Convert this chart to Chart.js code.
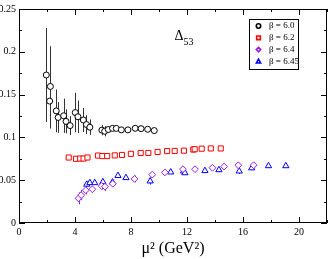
<!DOCTYPE html>
<html>
<head>
<meta charset="utf-8">
<script src="https://cdn.jsdelivr.net/npm/chart.js@4/dist/chart.umd.min.js"></script>
<style>
  html, body { margin: 0; padding: 0; background: #fff; }
  #wrap { width: 332px; height: 259px; }
</style>
</head>
<body>
<div id="wrap"><canvas id="chart" width="332" height="259"></canvas></div>
<script>
// beta = 6.0 (circles)
const mu2_60 = [1.95, 2.24, 2.19, 2.66, 2.80, 3.19, 3.36, 3.65, 4.02, 4.21, 4.60, 4.82, 5.06, 5.92, 6.12, 6.38, 6.68, 6.95, 7.31, 7.78, 8.30, 8.72, 9.19, 9.66];
const d_60   = [0.1729, 0.1595, 0.1424, 0.1310, 0.1233, 0.1253, 0.1187, 0.1138, 0.1290, 0.1241, 0.1203, 0.1150, 0.1119, 0.1085, 0.1072, 0.1092, 0.1105, 0.1105, 0.1088, 0.1088, 0.1106, 0.1102, 0.1095, 0.1080];
const e_60   = [0.055, 0.047, 0.032, 0.025, 0.018, 0.020, 0.014, 0.011, 0.023, 0.019, 0.014, 0.011, 0.009, 0.006, 0.006, 0.004, 0.003, 0.003, 0.002, 0.002, 0.002, 0.002, 0.002, 0.002];

// beta = 6.2 (squares)
const mu2_62 = [3.55, 4.07, 4.37, 4.61, 4.89, 5.64, 5.95, 6.30, 6.84, 7.36, 7.99, 8.69, 9.24, 9.90, 10.58, 11.12, 11.78, 12.45, 12.55, 13.05, 13.70, 14.41];
const d_62   = [0.0765, 0.0750, 0.0753, 0.0753, 0.0765, 0.0788, 0.0782, 0.0782, 0.0790, 0.0795, 0.0808, 0.0818, 0.0818, 0.0830, 0.0840, 0.0842, 0.0845, 0.0858, 0.0862, 0.0868, 0.0871, 0.0871];
const e_62   = [0.001, 0.001, 0.001, 0.001, 0.001, 0.001, 0.001, 0.001, 0.001, 0.001, 0.001, 0.001, 0.001, 0.001, 0.001, 0.001, 0.001, 0.001, 0.001, 0.001, 0.001, 0.001];

// beta = 6.4 (diamonds)
const mu2_64 = [4.25, 4.44, 4.77, 5.24, 5.90, 6.14, 6.70, 8.25, 9.52, 10.42, 11.71, 12.57, 13.82, 14.65, 15.66, 16.76];
const d_64   = [0.0288, 0.0326, 0.0383, 0.0394, 0.0432, 0.0424, 0.0458, 0.0515, 0.0565, 0.0591, 0.0629, 0.0629, 0.0645, 0.0659, 0.0675, 0.0675];
const e_64   = [0.007, 0.006, 0.005, 0.004, 0.004, 0.005, 0.003, 0.004, 0.003, 0.003, 0.003, 0.002, 0.002, 0.002, 0.002, 0.002];

// beta = 6.45 (triangles)
const mu2_645 = [4.84, 5.06, 5.41, 5.99, 6.68, 7.07, 7.64, 9.37, 10.84, 11.75, 11.85, 13.28, 14.28, 15.73, 16.62, 17.82, 19.06];
const d_645   = [0.0451, 0.0469, 0.0469, 0.0480, 0.0477, 0.0553, 0.0528, 0.0489, 0.0594, 0.0605, 0.0585, 0.0610, 0.0620, 0.0605, 0.0642, 0.0667, 0.0667];
const e_645   = [0.002, 0.002, 0.002, 0.002, 0.002, 0.002, 0.002, 0.004, 0.002, 0.002, 0.002, 0.002, 0.002, 0.003, 0.002, 0.002, 0.002];

const seriesLabels = ['β = 6.0', 'β = 6.2', 'β = 6.4', 'β = 6.45'];
const xTicks = [0, 4, 8, 12, 16, 20];
const xMinor = [2, 6, 10, 14, 18, 22];
const yTicks = [0, 0.05, 0.1, 0.15, 0.2, 0.25];
const yMinor = [0.025, 0.075, 0.125, 0.175, 0.225];

const SERIF = '"Liberation Serif", "DejaVu Serif", serif';

function pts(xs, ys) {
    return xs.map((x, i) => ({ x: x, y: ys[i] }));
}

function makeSet(label, xs, ys, errs, color, style, r) {
    return {
        label: label,
        data: pts(xs, ys),
        errs: errs,
        borderColor: color,
        backgroundColor: '#fff',
        pointStyle: style,
        pointRadius: r,
        pointBorderWidth: 1,
        showLine: false
    };
}

// draw a marker by hand (used for the legend box)
function drawMarker(ctx, style, x, y, r, color) {
    ctx.save();
    ctx.strokeStyle = color;
    ctx.fillStyle = '#fff';
    ctx.lineWidth = 1.6;
    ctx.beginPath();
    if (style === 'circle') {
        ctx.arc(x, y, r, 0, Math.PI * 2);
    } else if (style === 'rect') {
        const s = r * 0.85;
        ctx.rect(x - s, y - s, 2 * s, 2 * s);
    } else if (style === 'rectRot') {
        ctx.moveTo(x, y - r); ctx.lineTo(x + r, y); ctx.lineTo(x, y + r); ctx.lineTo(x - r, y);
        ctx.closePath();
    } else {
        ctx.moveTo(x, y - r);
        ctx.lineTo(x + r * 0.95, y + r * 0.7);
        ctx.lineTo(x - r * 0.95, y + r * 0.7);
        ctx.closePath();
    }
    ctx.fill();
    ctx.stroke();
    ctx.restore();
}

// vertical error bars, drawn under the markers
const errorBars = {
    id: 'errorBars',
    beforeDatasetsDraw(chart) {
        const ctx = chart.ctx;
        const xs = chart.scales.x, ys = chart.scales.y;
        ctx.save();
        ctx.lineWidth = 1;
        chart.data.datasets.forEach(ds => {
            ctx.strokeStyle = ds.borderColor === '#000000' ? '#333' : ds.borderColor;
            ds.data.forEach((p, i) => {
                const e = ds.errs[i];
                const px = Math.round(xs.getPixelForValue(p.x)) + 0.5;
                ctx.beginPath();
                ctx.moveTo(px, ys.getPixelForValue(p.y - e));
                ctx.lineTo(px, ys.getPixelForValue(p.y + e));
                ctx.stroke();
            });
        });
        ctx.restore();
    }
};

// frame, inward ticks, label and legend box
const decorations = {
    id: 'decorations',
    afterDraw(chart) {
        const ctx = chart.ctx;
        const a = chart.chartArea;
        const xs = chart.scales.x, ys = chart.scales.y;
        ctx.save();
        ctx.strokeStyle = '#000';
        ctx.lineWidth = 1;
        ctx.strokeRect(a.left + 0.5, a.top + 0.5, a.right - a.left - 1, a.bottom - a.top - 1);

        ctx.beginPath();
        const tickX = (v, len) => {
            const px = Math.round(xs.getPixelForValue(v)) + 0.5;
            ctx.moveTo(px, a.bottom); ctx.lineTo(px, a.bottom - len);
            ctx.moveTo(px, a.top); ctx.lineTo(px, a.top + len);
        };
        const tickY = (v, len) => {
            const py = Math.round(ys.getPixelForValue(v)) + 0.5;
            ctx.moveTo(a.left, py); ctx.lineTo(a.left + len, py);
            ctx.moveTo(a.right, py); ctx.lineTo(a.right - len, py);
        };
        xTicks.forEach(v => tickX(v, 6));
        xMinor.forEach(v => tickX(v, 3));
        yTicks.forEach(v => tickY(v, 6));
        yMinor.forEach(v => tickY(v, 3));
        ctx.stroke();

        // Delta_53 label
        const lx = xs.getPixelForValue(11.1);
        const ly = ys.getPixelForValue(0.2135);
        ctx.fillStyle = '#000';
        ctx.textBaseline = 'alphabetic';
        ctx.textAlign = 'left';
        ctx.font = '14px ' + SERIF;
        ctx.fillText('Δ', lx, ly);
        ctx.font = '10px ' + SERIF;
        ctx.fillText('53', lx + 9, ly + 5);

        // legend
        const bx = a.right - 78, by = 19, bw = 49, bh = 50;
        ctx.strokeRect(bx + 0.5, by + 0.5, bw, bh);
        ctx.font = '9px ' + SERIF;
        ctx.textBaseline = 'middle';
        chart.data.datasets.forEach((ds, i) => {
            const cy = by + 7 + i * 11.8;
            drawMarker(ctx, ds.pointStyle, bx + 9.5, cy, 2.2, ds.borderColor);
            ctx.fillStyle = '#000';
            ctx.fillText(ds.label, bx + 20, cy);
        });
        ctx.restore();
    }
};

const chart = new Chart(document.getElementById('chart'), {
    type: 'scatter',
    data: {
        datasets: [
            makeSet(seriesLabels[0], mu2_60, d_60, e_60, '#000000', 'circle', 3),
            makeSet(seriesLabels[1], mu2_62, d_62, e_62, '#ff0000', 'rect', 3.6),
            makeSet(seriesLabels[2], mu2_64, d_64, e_64, '#9a1ee0', 'rectRot', 3.4),
            makeSet(seriesLabels[3], mu2_645, d_645, e_645, '#0000ff', 'triangle', 3.6)
        ]
    },
    options: {
        responsive: false,
        animation: false,
        devicePixelRatio: 1,
        layout: { padding: { top: 4, right: 1, left: 0, bottom: 0 } },
        plugins: { legend: { display: false }, tooltip: { enabled: false } },
        scales: {
            x: {
                type: 'linear',
                min: 0,
                max: 22,
                grid: { display: false, drawTicks: false },
                border: { display: false },
                afterBuildTicks: s => { s.ticks = xTicks.map(v => ({ value: v })); },
                afterFit: s => { s.height = 36; },
                ticks: { color: '#000', padding: 3, font: { family: SERIF, size: 10 } },
                title: {
                    display: true,
                    text: 'μ² (GeV²)',
                    color: '#000',
                    padding: { top: 0, bottom: 1 },
                    font: { family: SERIF, size: 16 }
                }
            },
            y: {
                min: 0,
                max: 0.25,
                grid: { display: false, drawTicks: false },
                border: { display: false },
                afterBuildTicks: s => { s.ticks = yTicks.map(v => ({ value: v })); },
                afterFit: s => { s.width = 19; },
                ticks: {
                    color: '#000',
                    padding: 3,
                    font: { family: SERIF, size: 10 },
                    callback: v => String(v)
                }
            }
        }
    },
    plugins: [errorBars, decorations]
});
</script>
</body>
</html>
